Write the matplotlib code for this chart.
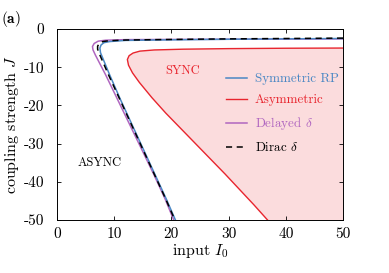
import matplotlib
matplotlib.use("Agg")
import matplotlib.pyplot as plt
import numpy as np

plt.rcParams['font.family'] = 'serif'
plt.rcParams['font.serif'] = ['cmr10', 'DejaVu Serif']
plt.rcParams['mathtext.fontset'] = 'cm'
plt.rcParams['axes.formatter.use_mathtext'] = False
plt.rcParams['axes.unicode_minus'] = False

# Dirac delta boundary
dirac_I = [50, 40, 30, 20, 12, 9, 8, 7.4, 7.1, 7.1, 7.4, 9, 11, 13, 15, 17, 19, 20.6]
dirac_J = [-2.4, -2.5, -2.6, -2.75, -2.9, -3.1, -3.3, -3.8, -4.5, -5.3, -6.5, -12, -18.5, -25, -31.5, -38, -44.5, -50]
# Symmetric RP boundary
sym_I = [50, 40, 30, 20, 12, 9.2, 8.2, 7.7, 7.5, 7.6, 9.2, 11.1, 13.1, 15.1, 17.1, 19.1, 20.7]
sym_J = [-2.5, -2.6, -2.7, -2.85, -3.0, -3.3, -3.6, -4.2, -5.0, -6.2, -12, -18.5, -25, -31.5, -38, -44.5, -50]
# Delayed delta boundary
del_I = [50, 40, 30, 20, 12, 8.5, 7.2, 6.5, 6.2, 6.3, 6.7, 8.5, 10.6, 12.7, 14.8, 16.9, 18.9, 20.4]
del_J = [-2.6, -2.65, -2.7, -2.75, -2.8, -2.95, -3.2, -3.8, -4.6, -5.5, -6.8, -12, -18.5, -25, -31.5, -38, -44.5, -50]
# Asymmetric boundary
asy_I = [50, 40, 30, 22, 17, 14.5, 13.3, 12.6, 12.3, 12.5, 13.2, 14.4, 16.6, 19.0, 21.6, 24.2, 26.8, 29.4, 31.9, 34.4, 36.8]
asy_J = [-5.0, -5.05, -5.15, -5.3, -5.5, -5.8, -6.3, -7.0, -8.0, -9.5, -11.5, -14.0, -18.0, -22.0, -26.0, -30.0, -34.0, -38.0, -42.0, -46.0, -50]

c_blue = '#4a87c4'
c_red = '#e8252e'
c_purple = '#b066c0'

fig = plt.figure(figsize=(3.89, 2.73), dpi=100)
ax = fig.add_axes([0.1465, 0.194, 0.7355, 0.70])

ax.fill(list(asy_I) + [50], list(asy_J) + [-50], color='#fbdcdd', lw=0, zorder=0)
ax.plot(sym_I, sym_J, color=c_blue, lw=1.1, label='Symmetric RP', zorder=3)
ax.plot(asy_I, asy_J, color=c_red, lw=1.0, label='Asymmetric', zorder=2)
ax.plot(del_I, del_J, color=c_purple, lw=1.1, label=r'Delayed $\delta$', zorder=2)
ax.plot(dirac_I, dirac_J, color='black', lw=1.1, ls=(0, (4, 3)), label=r'Dirac $\delta$', zorder=4)

ax.set_xlim(0, 50)
ax.set_ylim(-50, 0)
ax.set_xticks([0, 10, 20, 30, 40, 50])
ax.set_yticks([0, -10, -20, -30, -40, -50])
ax.tick_params(direction='in', top=True, right=True, length=3, width=0.6, labelsize=11)
ax.tick_params(axis='y', pad=9)
ax.tick_params(axis='x', pad=5)
for s in ax.spines.values():
    s.set_linewidth(0.7)

ax.set_xlabel(r'input $I_0$', fontsize=11.5, labelpad=1)
ax.set_ylabel(r'coupling strength $J$', fontsize=11.5, labelpad=2)

ax.text(22, -10.9, 'SYNC', color=c_red, fontsize=9, ha='center', va='center')
ax.text(7.5, -35, 'ASYNC', color='black', fontsize=9, ha='center', va='center')

leg = ax.legend(loc='upper left', bbox_to_anchor=(0.55, 0.83), frameon=False, fontsize=9.4,
                handlelength=1.6, handletextpad=0.6, labelspacing=0.68)
for txt, col in zip(leg.get_texts(), [c_blue, c_red, c_purple, 'black']):
    txt.set_color(col)

fig.text(0.003, 0.93, r'$\mathbf{(a)}$', fontsize=11, ha='left', va='center')

fig.savefig('out.png', dpi=100)
